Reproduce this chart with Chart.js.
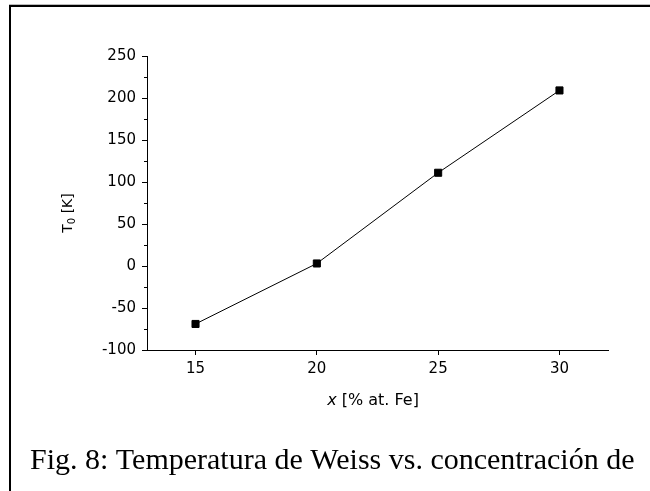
<!DOCTYPE html>
<html>
<head>
<meta charset="utf-8">
<script src="https://cdn.jsdelivr.net/npm/chart.js@4"></script>
<style>
html,body{margin:0;padding:0;background:#fff;}
#wrap{position:relative;width:650px;height:491px;}
</style>
</head>
<body>
<div id="wrap"><canvas id="c" width="650" height="491"></canvas></div>
<script>
// ---- data ----
const xValues = [15, 20, 25, 30];
const t0Values = [-69, 3, 111, 209];
const xTicks = [15, 20, 25, 30];
const yTicks = [-100, -50, 0, 50, 100, 150, 200, 250];
const yMinorTicks = [-75, -25, 25, 75, 125, 175, 225];
const yTitleMain = 'T';
const yTitleSub = '0';
const yTitleRest = ' [K]';
const xTitleItalic = 'x';
const xTitleRest = ' [% at. Fe]';
const captionText = 'Fig. 8: Temperatura de Weiss vs. concentración de';

const SANS = '"DejaVu Sans", sans-serif';

const decor = {
  id: 'decor',
  afterDraw(chart) {
    const ctx = chart.ctx;
    const ys = chart.scales.y;
    ctx.save();
    // minor ticks on y axis
    ctx.strokeStyle = '#000';
    ctx.lineWidth = 1;
    ctx.beginPath();
    yMinorTicks.forEach(v => {
      const py = Math.round(ys.getPixelForValue(v)) + 0.5;
      ctx.moveTo(ys.right - 3, py);
      ctx.lineTo(ys.right, py);
    });
    ctx.stroke();
    ctx.fillStyle = '#000';
    // y title with subscript
    ctx.save();
    ctx.translate(72, 213);
    ctx.rotate(-Math.PI / 2);
    ctx.textBaseline = 'alphabetic';
    ctx.textAlign = 'left';
    ctx.font = '14px ' + SANS;
    const w1 = ctx.measureText(yTitleMain).width;
    const w3 = ctx.measureText(yTitleRest).width;
    ctx.font = '10px ' + SANS;
    const w2 = ctx.measureText(yTitleSub).width;
    let sx = -(w1 + w2 + w3) / 2;
    ctx.font = '14px ' + SANS;
    ctx.fillText(yTitleMain, sx, 0);
    sx += w1;
    ctx.font = '10px ' + SANS;
    ctx.fillText(yTitleSub, sx, 3);
    sx += w2;
    ctx.font = '14px ' + SANS;
    ctx.fillText(yTitleRest, sx, 0);
    ctx.restore();
    // x title with italic x
    ctx.textBaseline = 'alphabetic';
    ctx.textAlign = 'left';
    ctx.font = 'italic 16px ' + SANS;
    const a = ctx.measureText(xTitleItalic).width;
    ctx.font = '16px ' + SANS;
    const b = ctx.measureText(xTitleRest).width;
    let tx = 373 - (a + b) / 2;
    ctx.font = 'italic 16px ' + SANS;
    ctx.fillText(xTitleItalic, tx, 405);
    ctx.font = '16px ' + SANS;
    ctx.fillText(xTitleRest, tx + a, 405);
    // caption
    ctx.font = '30px "Liberation Serif", "Times New Roman", serif';
    ctx.fillText(captionText, 30, 469);
    // frame
    ctx.fillStyle = '#bbbbbb';
    ctx.fillRect(9, 4, 641, 1);
    ctx.fillStyle = '#000';
    ctx.fillRect(9, 5, 641, 2);
    ctx.fillRect(9, 5, 2, 486);
    ctx.restore();
  }
};

new Chart(document.getElementById('c'), {
  type: 'line',
  data: {
    datasets: [{
      data: xValues.map((x, i) => ({x: x, y: t0Values[i]})),
      borderColor: '#000',
      borderWidth: 1,
      backgroundColor: '#000',
      pointStyle: 'rect',
      pointRadius: 5,
      pointBorderWidth: 1,
      pointBorderColor: '#000',
      pointBackgroundColor: '#000',
      tension: 0,
      fill: false
    }]
  },
  options: {
    responsive: false,
    animation: false,
    events: [],
    layout: {padding: {left: 0, top: 56, right: 42, bottom: 101}},
    plugins: {legend: {display: false}, tooltip: {enabled: false}, title: {display: false}},
    scales: {
      x: {
        type: 'linear',
        min: 13, max: 32,
        afterBuildTicks: s => { s.ticks = xTicks.map(v => ({value: v})); },
        afterFit: s => { s.height = 40; },
        grid: {drawOnChartArea: false, drawTicks: true, tickLength: 5, tickColor: '#000', tickWidth: 1},
        border: {display: true, color: '#000', width: 1},
        ticks: {color: '#000', font: {family: SANS, size: 15}, padding: 5, maxRotation: 0, autoSkip: false}
      },
      y: {
        type: 'linear',
        min: -100, max: 250,
        afterBuildTicks: s => { s.ticks = yTicks.map(v => ({value: v})); },
        afterFit: s => { s.width = 147; },
        grid: {drawOnChartArea: false, drawTicks: true, tickLength: 5, tickColor: '#000', tickWidth: 1},
        border: {display: true, color: '#000', width: 1},
        ticks: {color: '#000', font: {family: SANS, size: 15}, padding: 6, autoSkip: false}
      }
    }
  },
  plugins: [decor]
});
</script>
</body>
</html>
